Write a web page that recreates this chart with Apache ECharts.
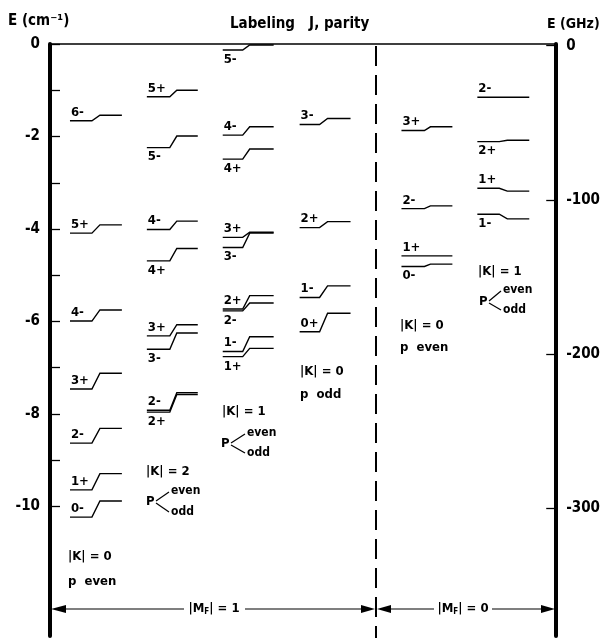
<!DOCTYPE html>
<html><head><meta charset="utf-8">
<script src="https://cdn.jsdelivr.net/npm/echarts@6/dist/echarts.min.js"></script>
<style>html,body{margin:0;padding:0;background:#fff}#c{width:603px;height:638px}</style>
</head><body><div id="c"></div>
<script>
// ---------- data (energies in cm^-1: left = labeling level, right = level in field) ----------
const col1J = ['6-','5+','4-','3+','2-','1+','0-'];
const col1Left = [-1.66,-4.09,-5.99,-7.46,-8.63,-9.64,-10.23];
const col1Right = [-1.54,-3.91,-5.75,-7.12,-8.31,-9.29,-9.88];
const col1Pos = ['a','a','a','a','a','a','a'];

const col2J = ['5+','5-','4-','4+','3+','3-','2-','2+'];
const col2Left = [-1.14,-2.24,-4.01,-4.69,-6.31,-6.60,-7.92,-7.96];
const col2Right = [-1.00,-1.99,-3.83,-4.42,-6.07,-6.25,-7.54,-7.58];
const col2Pos = ['a','b','a','b','a','b','a','b'];

const col3J = ['5-','4-','4+','3+','3-','2+','2-','1-','1+'];
const col3Left = [-0.13,-1.97,-2.49,-4.18,-4.40,-5.73,-5.77,-6.65,-6.76];
const col3Right = [-0.02,-1.79,-2.27,-4.07,-4.09,-5.44,-5.60,-6.33,-6.58];
const col3Pos = ['b','a','b','a','b','a','b','a','b'];

const col4J = ['3-','2+','1-','0+'];
const col4Left = [-1.74,-3.97,-5.48,-6.22];
const col4Right = [-1.61,-3.84,-5.23,-5.82];
const col4Pos = ['a','a','a','a'];

const col5J = ['3+','2-','1+','0-'];
const col5Left = [-1.87,-3.56,-4.58,-4.81];
const col5Right = [-1.79,-3.50,-4.58,-4.76];
const col5Pos = ['a','a','a','b'];

const col6J = ['2-','2+','1+','1-'];
const col6Left = [-1.15,-2.11,-3.12,-3.68];
const col6Right = [-1.15,-2.08,-3.18,-3.78];
const col6Pos = ['a','b','a','b'];

const cmTicks = [0,-1,-2,-3,-4,-5,-6,-7,-8,-9,-10];
const cmLabels = [0,-2,-4,-6,-8,-10];
const ghzTicks = [0,-100,-200,-300];
const ghzLabels = [0,-100,-200,-300];

// ---------- layout ----------
const FAM = "'DejaVu Sans','Liberation Sans',sans-serif";
const F = (size) => 'bold condensed ' + size + 'px ' + FAM;
const colX = [[20,42,50,72],[97,120,127,148],[173,193,200,224],[250,270,278,301],[352,375,381,403],[428,450,458,480]];
const cols = [
  [col1J,col1Left,col1Right,col1Pos],[col2J,col2Left,col2Right,col2Pos],[col3J,col3Left,col3Right,col3Pos],
  [col4J,col4Left,col4Right,col4Pos],[col5J,col5Left,col5Right,col5Pos],[col6J,col6Left,col6Right,col6Pos]
];

const series = cols.map((c, ci) => ({
  type: 'custom',
  xAxisIndex: 0, yAxisIndex: 0,
  encode: {x: 0, y: [1, 2]},
  silent: true,
  data: c[1].map((v, i) => [colX[ci][0], v, c[2][i], i]),
  renderItem: (params, api) => {
    const L = api.value(1), R = api.value(2), i = api.value(3);
    const xs = colX[ci];
    const a = api.coord([xs[0], L]), b = api.coord([xs[1], L]);
    const p = api.coord([xs[2], R]), d = api.coord([xs[3], R]);
    const up = c[3][i] === 'a';
    return {type: 'group', children: [
      {type: 'polyline', shape: {points: [a, b, p, d]}, style: {stroke: '#000', lineWidth: 1.4, fill: null}},
      {type: 'text', style: {text: c[0][i], x: a[0] + 1, y: up ? a[1] - 2 : a[1] + 3,
        verticalAlign: up ? 'bottom' : 'top', align: 'left', fill: '#000', font: F(13)}}
    ]};
  }
}));

// annotation helpers
function txt(x, y, s, size) {
  return {type: 'text', x: x, y: y, style: {text: s, fill: '#000', font: F(size || 13), verticalAlign: 'middle'}};
}
function ln(x1, y1, x2, y2, w) {
  return {type: 'line', shape: {x1: x1, y1: y1, x2: x2, y2: y2}, style: {stroke: '#000', lineWidth: w || 1.2}};
}
function tri(pts) { return {type: 'polygon', shape: {points: pts}, style: {fill: '#000'}}; }
function fork(x, y, ex, s1y, s2y) {
  return [txt(x, y, 'P', 13), ln(x + 10, y - 1, ex - 2, s1y), ln(x + 10, y + 1, ex - 2, s2y),
    txt(ex, s1y - 1, 'even', 12), txt(ex, s2y, 'odd', 12)];
}
const AY = 609;
const mf = (x, v) => ({type: 'text', x: x, y: AY, style: {
  rich: {b: {font: F(13), fill: '#000'}, s: {font: F(8), fill: '#000', padding: [6, 0, 0, 0]}},
  text: '{b||M}{s|F}{b|| = ' + v + '}', verticalAlign: 'middle', align: 'center'}});

const graphics = [
  txt(8, 21, 'E (cm\u207B\u00B9)', 15),
  txt(230, 24, 'Labeling   J, parity', 15),
  txt(547, 24, 'E (GHz)', 14),
  // dashed separator
  {type: 'line', shape: {x1: 376, y1: 46, x2: 376, y2: 638}, style: {stroke: '#000', lineWidth: 2, lineDash: [20, 9]}},
  // bottom arrows
  ln(60, AY, 184, AY), ln(245, AY, 368, AY), tri([[51, AY], [66, AY - 4], [66, AY + 4]]), tri([[375, AY], [361, AY - 4], [361, AY + 4]]),
  ln(388, AY, 434, AY), ln(492, AY, 546, AY), tri([[377, AY], [391, AY - 4], [391, AY + 4]]), tri([[555, AY], [541, AY - 4], [541, AY + 4]]),
  mf(214, 1), mf(463, 0),
  // group descriptions
  txt(68, 557, '|K| = 0'), txt(68, 582, 'p  even'),
  txt(146, 472, '|K| = 2'),
  txt(222, 412, '|K| = 1'),
  txt(300, 372, '|K| = 0'), txt(300, 395, 'p  odd'),
  txt(400, 326, '|K| = 0'), txt(400, 348, 'p  even'),
  txt(478, 272, '|K| = 1')
].concat(fork(146, 502, 171, 492, 512), fork(221, 444, 247, 434, 453), fork(479, 302, 503, 291, 310));

const chart = echarts.init(document.getElementById('c'), null, {renderer: 'canvas'});
chart.setOption({
  animation: false,
  backgroundColor: '#fff',
  grid: {left: 50, right: 46, top: 44, bottom: 2, containLabel: false},
  xAxis: {type: 'value', min: 0, max: 507, position: 'top',
    axisLine: {show: true, onZero: false, lineStyle: {color: '#000', width: 1.5}},
    axisTick: {show: false}, axisLabel: {show: false}, splitLine: {show: false}},
  yAxis: [
    {type: 'value', min: -12.8, max: 0, position: 'left',
      axisLine: {show: true, onZero: false, lineStyle: {color: '#000', width: 4}},
      axisTick: {show: true, inside: true, length: 10, lineStyle: {color: '#000', width: 1.3}, customValues: cmTicks},
      axisLabel: {show: true, margin: 10, customValues: cmLabels, color: '#000', fontFamily: FAM, fontWeight: 'bold condensed', fontSize: 15},
      splitLine: {show: false}},
    {type: 'value', min: -382.7, max: 1.1, position: 'right',
      axisLine: {show: true, onZero: false, lineStyle: {color: '#000', width: 4}},
      axisTick: {show: true, inside: true, length: 10, lineStyle: {color: '#000', width: 1.3}, customValues: ghzTicks},
      axisLabel: {show: true, margin: 10, customValues: ghzLabels, color: '#000', fontFamily: FAM, fontWeight: 'bold condensed', fontSize: 15},
      splitLine: {show: false}}
  ],
  series: series,
  graphic: graphics
});
</script></body></html>
